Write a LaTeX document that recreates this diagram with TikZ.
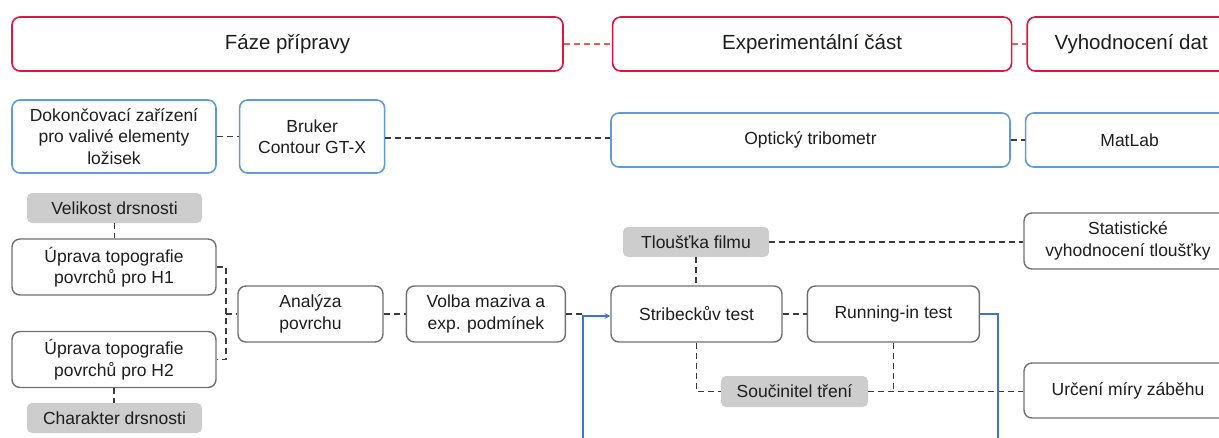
\documentclass[tikz,border=0pt]{standalone}
\usepackage{fontspec}
\setmainfont{Liberation Sans}
\usepackage{tikz}
\usetikzlibrary{arrows,positioning}
\definecolor{phaseRed}{RGB}{222,22,62}
\definecolor{phaseDash}{RGB}{240,90,90}
\definecolor{toolBlue}{RGB}{95,155,215}
\definecolor{stepGray}{RGB}{112,112,112}
\definecolor{paramGray}{RGB}{205,205,205}
\definecolor{lineGray}{RGB}{60,60,60}
\definecolor{loopBlue}{RGB}{65,115,205}
\definecolor{txt}{RGB}{30,30,30}
\tikzstyle{phase} = [draw=phaseRed, line width=1.6pt, rounded corners=8pt, minimum height=54pt, inner sep=0pt, text=txt, font=\fontsize{20.5}{24}\selectfont]
\tikzstyle{tool} = [draw=toolBlue, line width=1.6pt, rounded corners=8pt, minimum height=54pt, inner sep=0pt, align=center, text=txt, font=\fontsize{17.5}{21.5}\selectfont]
\tikzstyle{stepNode} = [draw=stepGray, line width=1.4pt, rounded corners=8pt, minimum height=56pt, inner sep=0pt, align=center, text=txt, font=\fontsize{17.5}{21.5}\selectfont]
\tikzstyle{param} = [fill=paramGray, rounded corners=5pt, minimum height=30pt, inner sep=0pt, text=txt, font=\fontsize{17.5}{21.5}\selectfont]
\tikzstyle{link} = [lineGray, line width=1.2pt, dash pattern=on 6pt off 4pt]
\tikzstyle{phaseLink} = [phaseDash, line width=1.2pt, dash pattern=on 6pt off 4pt]
\tikzstyle{loopLine} = [loopBlue, line width=1.5pt, ->, >=stealth]

\begin{document}
\begin{tikzpicture}[x=1pt,y=-1pt]
\useasboundingbox (0,0) rectangle (1219,437);
\node (faze) [phase, minimum width=551pt] at (287.5,44) {Fáze přípravy};
\node (exper) [phase, minimum width=399pt, right=48pt of faze] {Experimentální část};
\node (vyhod) [phase, minimum width=208pt, right=14pt of exper] {Vyhodnocení dat};
\node (dokon) [tool, minimum width=204pt, minimum height=73pt] at (114,136.5) {Dokončovací zařízení\\pro valivé elementy\\ložisek};
\node (bruker) [tool, minimum width=145pt, minimum height=73pt, right=22pt of dokon] {Bruker\\Contour GT-X};
\node (optik) [tool, minimum width=399pt] at (810.5,140) {Optický tribometr};
\node (matlab) [tool, minimum width=208pt, right=14pt of optik] {MatLab};
\node (velik) [param, minimum width=175pt] at (114.5,208) {Velikost drsnosti};
\node (uprH1) [stepNode, minimum width=204pt] at (114,267) {Úprava topografie\\povrchů pro H1};
\node (uprH2) [stepNode, minimum width=204pt] at (114,359.5) {Úprava topografie\\povrchů pro H2};
\node (charak) [param, minimum width=175pt] at (114.5,418) {Charakter drsnosti};
\node (analyza) [stepNode, minimum width=145pt] at (310.5,314) {Analýza\\povrchu};
\node (volba) [stepNode, minimum width=159pt, right=22pt of analyza] {Volba maziva a\\exp. podmínek};
\node (strib) [stepNode, minimum width=171pt] at (696.5,314) {Stribeckův test};
\node (running) [stepNode, minimum width=172pt, right=24pt of strib] {Running-in test};
\node (tloustka) [param, minimum width=146pt] at (696,242) {Tloušťka filmu};
\node (statist) [stepNode, minimum width=208pt] at (1128,241) {Statistické\\vyhodnocení tloušťky};
\node (soucin) [param, minimum width=147pt, minimum height=31pt] at (794.5,391.5) {Součinitel tření};
\node (urceni) [stepNode, minimum width=208pt, minimum height=55pt] at (1128,390.5) {Určení míry záběhu};
\coordinate (fork) at (226,314);
\coordinate (merge) at (583,314);
\coordinate (loopR) at (998,470);
\coordinate (loopL) at (583,470);
\draw [phaseLink] (faze) -- (exper);
\draw [phaseLink] (exper) -- (vyhod);
\draw [link] (dokon) -- (bruker);
\draw [link] ([yshift=-1.5pt]bruker.east) -- ([yshift=-1.5pt]bruker.east -| optik.west);
\draw [link] (optik) -- (matlab);
\draw [link] (velik.south) -- (velik.south |- uprH1.north);
\draw [link] (uprH2.south) -- (uprH2.south |- charak.north);
\draw [link] (uprH1.east) -| (fork) |- (uprH2.east);
\draw [link] (fork) -- (analyza.west);
\draw [link] (analyza) -- (volba);
\draw [link] (volba.east) -- (merge);
\draw [link] (tloustka) -- (statist.west |- tloustka);
\draw [link] (tloustka.south) -- (tloustka.south |- strib.north);
\draw [link] (strib) -- (running);
\draw [link] (strib.south) |- (soucin.west);
\draw [link] (soucin.east) -- (urceni.west |- soucin.east);
\draw [link] (running.south) -- (running.south |- soucin.east);
\draw [loopLine] (running.east) -| (loopR) -- (loopL) |- ([yshift=-2pt]strib.west);
\end{tikzpicture}
\end{document}
